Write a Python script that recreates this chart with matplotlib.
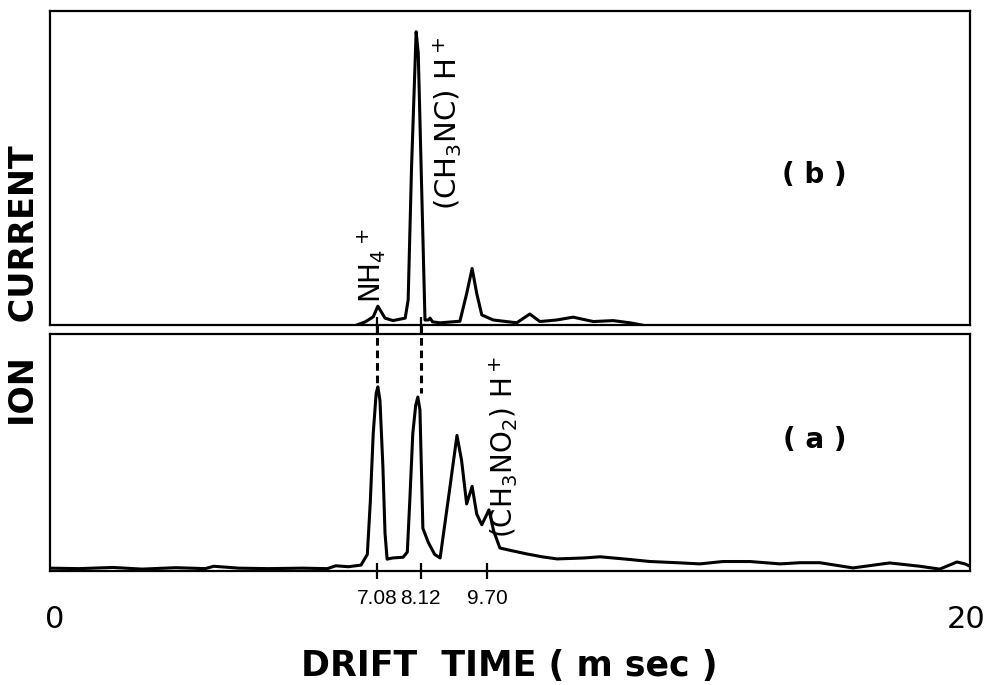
import matplotlib
matplotlib.use('Agg')
from matplotlib import pyplot as plt
from matplotlib import rcParams

rcParams['font.family'] = 'DejaVu Sans'
rcParams['mathtext.fontset'] = 'dejavusans'
rcParams['mathtext.default'] = 'regular'

#%% traces (drift time in msec, relative ion current)
# (b) upper trace
t_b = [6.60, 6.80, 6.99, 7.10, 7.27, 7.46, 7.75, 7.82, 7.90, 8.01,
       8.06, 8.14, 8.22, 8.30, 8.34, 8.40, 8.58, 9.05, 9.21, 9.34,
       9.45, 9.57, 9.84, 10.40, 10.71, 10.95, 11.35, 11.74, 12.22, 12.69,
       13.09, 13.37]
i_b = [0.0, 0.01, 0.026, 0.06, 0.022, 0.014, 0.022, 0.08, 0.50, 0.934,
       0.866, 0.44, 0.016, 0.016, 0.022, 0.010, 0.007, 0.012, 0.10, 0.18,
       0.10, 0.032, 0.016, 0.007, 0.035, 0.011, 0.016, 0.025, 0.011, 0.014,
       0.007, 0.0]

# (a) lower trace
t_a = [-0.69, 0.0, 0.8, 1.5, 2.3, 3.0, 3.2, 3.8, 4.5, 5.3,
       5.9, 6.1, 6.4, 6.7, 6.85, 6.92, 6.99, 7.06, 7.10, 7.15,
       7.22, 7.27, 7.32, 7.45, 7.70, 7.80, 7.86, 7.93, 8.00, 8.05,
       8.10, 8.17, 8.30, 8.45, 8.58, 8.81, 8.98, 9.09, 9.21, 9.34,
       9.45, 9.57, 9.74, 9.85, 10.0, 10.3, 10.64, 11.0, 11.36, 12.0,
       12.38, 13.0, 13.57, 14.2, 14.75, 15.3, 15.94, 16.66, 17.13, 17.6,
       18.39, 19.26, 19.98, 20.45, 20.86, 21.05, 21.17]
i_a = [0.012, 0.010, 0.015, 0.008, 0.014, 0.010, 0.020, 0.012, 0.010, 0.012,
       0.010, 0.022, 0.018, 0.025, 0.07, 0.29, 0.58, 0.75, 0.777, 0.72,
       0.44, 0.16, 0.05, 0.055, 0.058, 0.08, 0.30, 0.58, 0.70, 0.734,
       0.68, 0.18, 0.12, 0.07, 0.055, 0.35, 0.572, 0.466, 0.283, 0.357,
       0.24, 0.195, 0.258, 0.17, 0.097, 0.085, 0.072, 0.060, 0.051, 0.055,
       0.06, 0.05, 0.04, 0.035, 0.03, 0.04, 0.04, 0.03, 0.035, 0.035,
       0.013, 0.034, 0.02, 0.008, 0.038, 0.03, 0.02]

peak_t = [7.08, 8.12, 9.70]
peak_lab = ['7.08', '8.12', '9.70']
xlim = (-0.69, 21.17)

lw = 2.2
#--------------------------------------------------------------------------
fig = plt.figure(figsize=(10.02, 6.85), dpi=100)
ax_b = fig.add_axes([50/1002, 1-325/685, 920/1002, 314/685])
ax_a = fig.add_axes([50/1002, 1-571/685, 920/1002, 237/685])

for ax in (ax_a, ax_b):
    ax.set_xlim(xlim)
    ax.set_ylim(0, 1)
    ax.set_yticks([])
    for s in ax.spines.values():
        s.set_linewidth(1.6)
    ax.tick_params(axis='x', direction='inout', length=12, width=1.6)

ax_b.plot(t_b, i_b, color='k', lw=lw, solid_joinstyle='round')
ax_a.plot(t_a, i_a, color='k', lw=lw, solid_joinstyle='round')

ax_b.set_xticks(peak_t[:2])
ax_b.set_xticklabels([])
ax_a.set_xticks(peak_t)
ax_a.set_xticklabels(peak_lab, fontsize=15, family='Liberation Sans')
ax_a.tick_params(axis='x', pad=7)

# dashed guides from the (b) peaks to the (a) peaks
for t, top in zip(peak_t[:2], [0.79, 0.75]):
    ax_a.plot([t, t], [1.038, top], color='k', lw=lw,
              linestyle=(0, (2.5, 1.6)), clip_on=False)

# peak labels
ax_b.text(6.96, 0.07, r'NH$_4$$^+$', rotation=90, ha='center', va='bottom', fontsize=20)
ax_b.text(8.77, 0.366, r'(CH$_3$NC) H$^+$', rotation=90, ha='center', va='bottom', fontsize=21)
ax_a.text(10.10, 0.14, r'(CH$_3$NO$_2$) H$^+$', rotation=90, ha='center', va='bottom', fontsize=20)

ax_b.text(17.48, 0.478, '( b )', ha='center', va='center', fontsize=20, fontweight='bold')
ax_a.text(17.48, 0.551, '( a )', ha='center', va='center', fontsize=20, fontweight='bold')

fig.text(55/1002, 1-620/685, '0', ha='center', va='center', fontsize=22)
fig.text(966/1002, 1-620/685, '20', ha='center', va='center', fontsize=22)
fig.text(509/1002, 1-666/685, 'DRIFT  TIME ( m sec )', ha='center', va='center',
         fontsize=25, fontweight='bold')
fig.text(24.5/1002, 1-286/685, 'ION   CURRENT', rotation=90, ha='center', va='center',
         fontsize=24, fontweight='bold')

fig.savefig('out.png', dpi=100)
